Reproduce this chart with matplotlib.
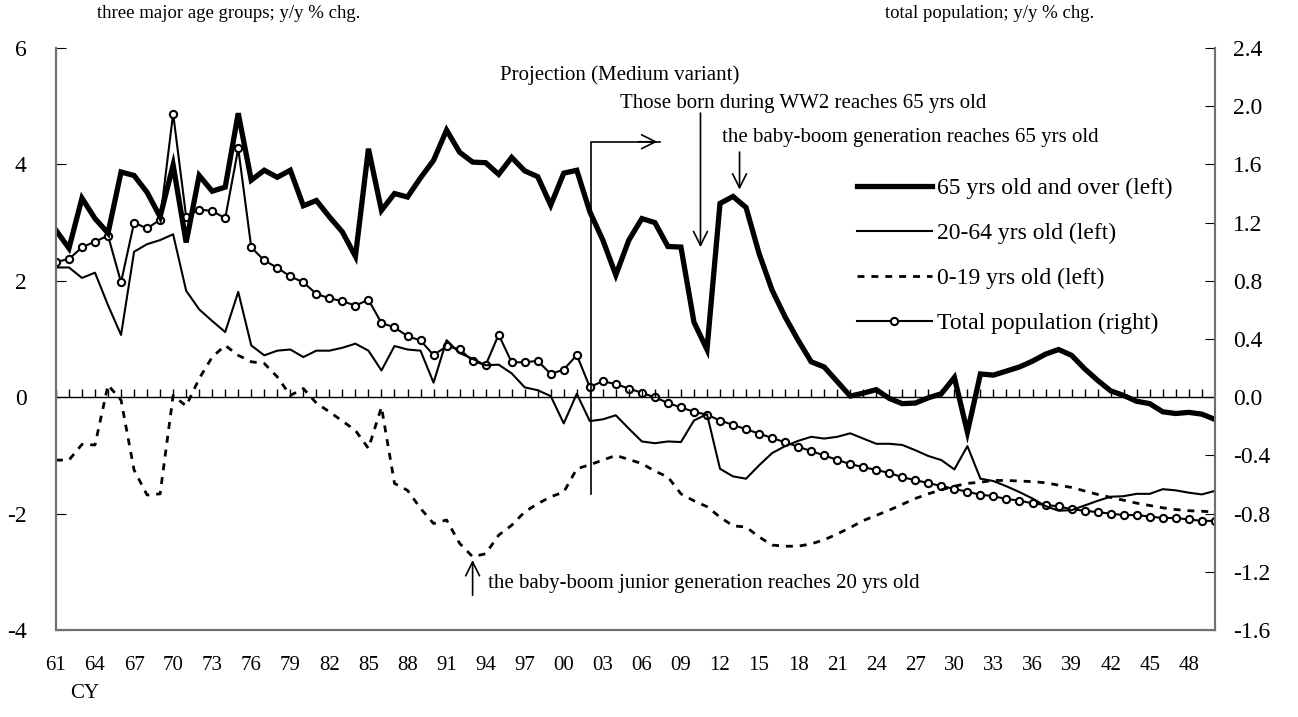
import numpy as np
import matplotlib
matplotlib.use("Agg")
import matplotlib.pyplot as plt

plt.rcParams['font.family'] = ['Liberation Serif', 'DejaVu Serif']
plt.rcParams['axes.unicode_minus'] = False

# data: y/y % change, 1961-2050 (2003 onward = projection)
years = np.arange(1961, 2051)

old65 = [2.87, 2.56, 3.42, 3.07, 2.82, 3.87, 3.81, 3.52, 3.10, 3.99,
         2.66, 3.81, 3.54, 3.61, 4.88, 3.73, 3.90, 3.78, 3.90, 3.29,
         3.38, 3.10, 2.84, 2.42, 4.27, 3.21, 3.50, 3.44, 3.77, 4.07,
         4.59, 4.21, 4.04, 4.03, 3.83, 4.12, 3.89, 3.79, 3.30, 3.85,
         3.90, 3.19, 2.70, 2.10, 2.70, 3.07, 3.00, 2.59, 2.58, 1.29,
         0.82, 3.33, 3.45, 3.26, 2.47, 1.84, 1.38, 0.98, 0.61, 0.52,
         0.27, 0.02, 0.07, 0.13, -0.02, -0.11, -0.10, -0.01, 0.06, 0.34,
         -0.60, 0.40, 0.38, 0.45, 0.52, 0.62, 0.74, 0.82, 0.72, 0.49,
         0.29, 0.11, 0.03, -0.07, -0.11, -0.25, -0.28, -0.26, -0.29, -0.38]

age2064 = [2.23, 2.23, 2.05, 2.14, 1.58, 1.07, 2.50, 2.63, 2.70, 2.80,
           1.83, 1.51, 1.31, 1.12, 1.81, 0.89, 0.72, 0.80, 0.82, 0.69,
           0.80, 0.80, 0.85, 0.92, 0.80, 0.46, 0.88, 0.82, 0.80, 0.25,
           0.98, 0.76, 0.66, 0.55, 0.56, 0.41, 0.17, 0.12, 0.02, -0.45,
           0.06, -0.41, -0.38, -0.31, -0.54, -0.76, -0.79, -0.76, -0.77, -0.40,
           -0.29, -1.23, -1.36, -1.40, -1.17, -0.96, -0.84, -0.75, -0.68, -0.71,
           -0.68, -0.62, -0.71, -0.80, -0.80, -0.82, -0.91, -1.01, -1.08, -1.24,
           -0.84, -1.40, -1.44, -1.53, -1.63, -1.74, -1.87, -1.95, -1.94, -1.86,
           -1.78, -1.71, -1.70, -1.66, -1.66, -1.58, -1.60, -1.64, -1.67, -1.61]

age019 = [-1.08, -1.08, -0.81, -0.82, 0.21, -0.05, -1.25, -1.68, -1.66, 0.03,
          -0.15, 0.32, 0.69, 0.89, 0.72, 0.61, 0.58, 0.35, 0.03, 0.15,
          -0.10, -0.25, -0.41, -0.57, -0.88, -0.17, -1.48, -1.60, -1.91, -2.17,
          -2.11, -2.51, -2.74, -2.69, -2.37, -2.20, -1.97, -1.83, -1.71, -1.63,
          -1.23, -1.16, -1.08, -1.00, -1.07, -1.14, -1.27, -1.37, -1.66, -1.78,
          -1.88, -2.06, -2.21, -2.23, -2.40, -2.54, -2.56, -2.56, -2.52, -2.45,
          -2.35, -2.24, -2.12, -2.03, -1.94, -1.84, -1.74, -1.66, -1.59, -1.53,
          -1.48, -1.46, -1.43, -1.43, -1.44, -1.45, -1.47, -1.51, -1.55, -1.61,
          -1.67, -1.72, -1.77, -1.82, -1.86, -1.90, -1.93, -1.95, -1.96, -1.97]

total = [0.93, 0.95, 1.03, 1.07, 1.11, 0.79, 1.20, 1.16, 1.22, 1.95,
         1.24, 1.29, 1.28, 1.23, 1.71, 1.03, 0.94, 0.89, 0.83, 0.79,
         0.71, 0.68, 0.66, 0.63, 0.67, 0.51, 0.48, 0.42, 0.39, 0.29,
         0.35, 0.33, 0.25, 0.22, 0.43, 0.24, 0.24, 0.25, 0.16, 0.19,
         0.29, 0.07, 0.11, 0.09, 0.06, 0.03, 0.00, -0.04, -0.07, -0.10,
         -0.12, -0.16, -0.19, -0.22, -0.25, -0.28, -0.31, -0.34, -0.37, -0.40,
         -0.43, -0.46, -0.48, -0.50, -0.52, -0.55, -0.57, -0.59, -0.61, -0.63,
         -0.65, -0.67, -0.68, -0.70, -0.71, -0.73, -0.74, -0.75, -0.77, -0.78,
         -0.79, -0.80, -0.81, -0.81, -0.82, -0.83, -0.83, -0.84, -0.85, -0.85]

xtick_years = np.arange(1961, 2050, 3)
xtick_labels = ['%02d' % (y % 100) for y in xtick_years]
left_ticks = [6, 4, 2, 0, -2, -4]
right_ticks = [2.4, 2.0, 1.6, 1.2, 0.8, 0.4, 0.0, -0.4, -0.8, -1.2, -1.6]

fig = plt.figure(figsize=(12.98, 7.17), dpi=100)
ax = fig.add_axes([0.0431, 0.1213, 0.8928, 0.8117])
ax2 = ax.twinx()

l1, = ax.plot(years, old65, color='black', lw=3.8, solid_joinstyle='miter')
l2, = ax.plot(years, age2064, color='black', lw=1.5)
l3, = ax.plot(years, age019, color='black', lw=2.0, linestyle=(0, (2.5, 2.5)))
l4, = ax2.plot(years, total, color='black', lw=1.5, marker='o', markersize=5.2,
               markerfacecolor='white', markeredgecolor='black', markeredgewidth=1.5)

ax.set_xlim(1961, 2050)
ax.set_ylim(-4, 6)
ax2.set_ylim(-1.6, 2.4)

# zero line with yearly tick marks
ax.axhline(0, color='black', lw=1.0)
ax.vlines(years, 0, 0.14, color='black', lw=1.0)

ax.set_xticks(xtick_years)
ax.set_xticklabels(xtick_labels, fontsize=15)
ax.tick_params(axis='x', length=0, pad=19)
ax.set_yticks(left_ticks)
ax.set_yticklabels([str(v) for v in left_ticks], fontsize=17)
ax.tick_params(axis='y', direction='in', length=7, pad=21, colors='black')
ax2.set_yticks(right_ticks)
ax2.set_yticklabels(['%.1f' % v for v in right_ticks], fontsize=17)
ax2.tick_params(axis='y', direction='in', length=7, pad=13)

for a in (ax, ax2):
    a.spines['top'].set_visible(False)
    for s in ('left', 'right', 'bottom'):
        a.spines[s].set_color('#707070')
        a.spines[s].set_linewidth(1.5)

# projection marker
ax.plot([2002.1, 2002.1, 2007.4], [-1.67, 4.39, 4.39], color='black', lw=1.2)
ax.annotate('', xy=(2007.4, 4.39), xytext=(2005.5, 4.39),
            arrowprops=dict(arrowstyle='->', color='black', lw=1.2, mutation_scale=25))
ax.text(2004.3, 5.53, 'Projection (Medium variant)', fontsize=15, ha='center', va='center')

ax.annotate('', xy=(2010.5, 2.53), xytext=(2010.5, 4.93),
            arrowprops=dict(arrowstyle='->', color='black', lw=1.2, mutation_scale=25))
ax.text(2004.3, 5.05, 'Those born during WW2 reaches 65 yrs old', fontsize=15,
        ha='left', va='center')

ax.annotate('', xy=(2013.5, 3.52), xytext=(2013.5, 4.26),
            arrowprops=dict(arrowstyle='->', color='black', lw=1.2, mutation_scale=25))
ax.text(2012.15, 4.47, 'the baby-boom generation reaches 65 yrs old', fontsize=15,
        ha='left', va='center')

ax.annotate('', xy=(1993.0, -2.75), xytext=(1993.0, -3.45),
            arrowprops=dict(arrowstyle='->', color='black', lw=1.2, mutation_scale=25))
ax.text(1994.2, -3.2, 'the baby-boom junior generation reaches 20 yrs old', fontsize=15,
        ha='left', va='center')

leg = ax.legend([l1, l2, l3, l4],
                ['65 yrs old and over (left)', '20-64 yrs old (left)',
                 '0-19 yrs old (left)', 'Total population (right)'],
                loc='upper left', bbox_to_anchor=(0.691, 0.778), frameon=False,
                fontsize=17, handlelength=3.2, handletextpad=0.2,
                labelspacing=1.0, borderpad=0, borderaxespad=0, numpoints=1)
ax2.set_zorder(1)
ax.set_zorder(2)
ax.patch.set_visible(False)

fig.text(97 / 1298, 1 - 13 / 717, 'three major age groups; y/y % chg.', fontsize=13.5,
         ha='left', va='center')
fig.text(885 / 1298, 1 - 13 / 717, 'total population; y/y % chg.', fontsize=13.5,
         ha='left', va='center')
fig.text(85 / 1298, 1 - 693 / 717, 'CY', fontsize=15, ha='center', va='center')

fig.savefig('out.png', dpi=100)
